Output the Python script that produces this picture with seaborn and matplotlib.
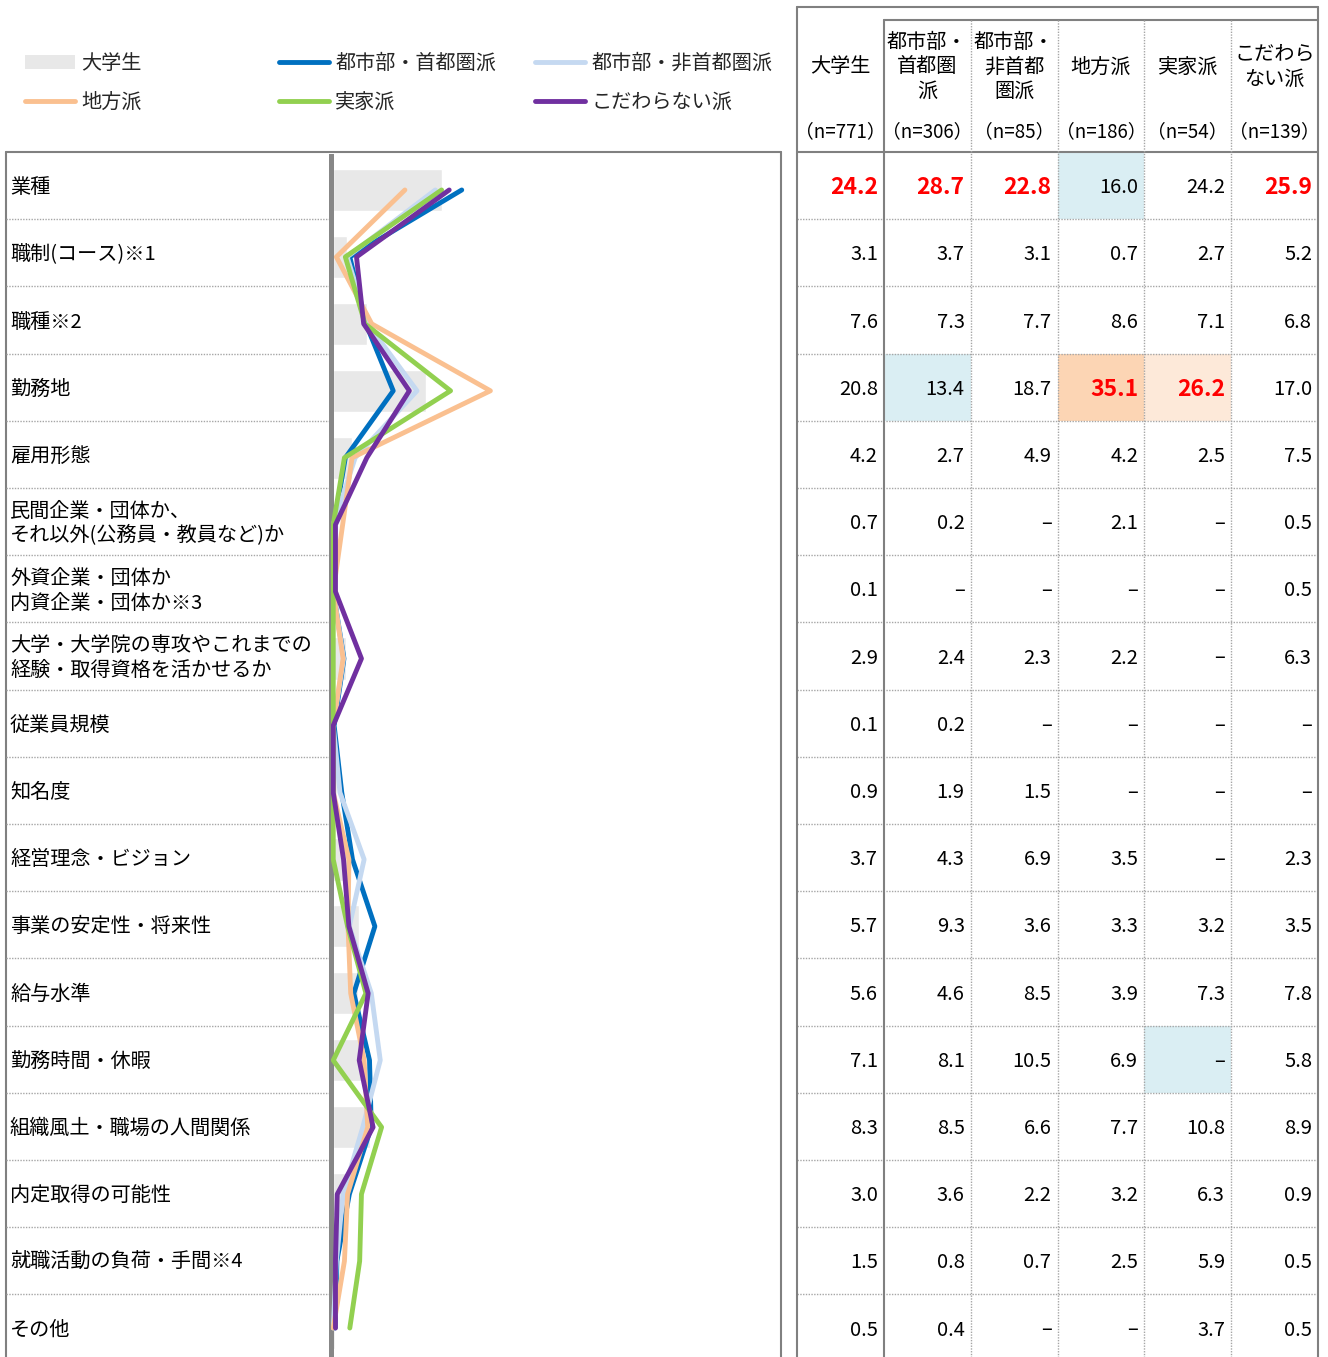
import matplotlib
matplotlib.use("Agg")
import matplotlib.pyplot as plt
from matplotlib.patches import Patch, Rectangle
from matplotlib.lines import Line2D
import seaborn as sns
import numpy as np
import pandas as pd

# ---- data -----------------------------------------------------------------
labels = [
    "業種",
    "職制(コース)※1",
    "職種※2",
    "勤務地",
    "雇用形態",
    "民間企業・団体か、\nそれ以外(公務員・教員など)か",
    "外資企業・団体か\n内資企業・団体か※3",
    "大学・大学院の専攻やこれまでの\n経験・取得資格を活かせるか",
    "従業員規模",
    "知名度",
    "経営理念・ビジョン",
    "事業の安定性・将来性",
    "給与水準",
    "勤務時間・休暇",
    "組織風土・職場の人間関係",
    "内定取得の可能性",
    "就職活動の負荷・手間※4",
    "その他",
]

groups = ["大学生", "都市部・首都圏派", "都市部・非首都圏派", "地方派", "実家派", "こだわらない派"]
col_headers = ["大学生", "都市部・\n首都圏\n派", "都市部・\n非首都\n圏派", "地方派", "実家派", "こだわら\nない派"]
col_n = ["（n=771）", "（n=306）", "（n=85）", "（n=186）", "（n=54）", "（n=139）"]

daigakusei = [24.2, 3.1, 7.6, 20.8, 4.2, 0.7, 0.1, 2.9, 0.1, 0.9, 3.7, 5.7, 5.6, 7.1, 8.3, 3.0, 1.5, 0.5]
shutoken = [28.7, 3.7, 7.3, 13.4, 2.7, 0.2, None, 2.4, 0.2, 1.9, 4.3, 9.3, 4.6, 8.1, 8.5, 3.6, 0.8, 0.4]
hishutoken = [22.8, 3.1, 7.7, 18.7, 4.9, None, None, 2.3, None, 1.5, 6.9, 3.6, 8.5, 10.5, 6.6, 2.2, 0.7, None]
chiho = [16.0, 0.7, 8.6, 35.1, 4.2, 2.1, None, 2.2, None, None, 3.5, 3.3, 3.9, 6.9, 7.7, 3.2, 2.5, None]
jikka = [24.2, 2.7, 7.1, 26.2, 2.5, None, None, None, None, None, None, 3.2, 7.3, None, 10.8, 6.3, 5.9, 3.7]
kodawaranai = [25.9, 5.2, 6.8, 17.0, 7.5, 0.5, 0.5, 6.3, None, None, 2.3, 3.5, 7.8, 5.8, 8.9, 0.9, 0.5, 0.5]

table_cols = [daigakusei, shutoken, hishutoken, chiho, jikka, kodawaranai]

# cells shown in bold red, and shaded cells (row, column, colour)
red_cells = [(0, 0), (0, 1), (0, 2), (0, 5), (3, 3), (3, 4)]
shaded_cells = [(0, 3, "#DAEEF3"), (3, 1, "#DAEEF3"), (3, 3, "#FCD5B4"), (3, 4, "#FDE9D9"), (13, 4, "#DAEEF3")]

line_colors = ["#0070C0", "#C5D9F1", "#FAC090", "#92D050", "#7030A0"]
bar_color = "#E8E8E8"

# ---- style ----------------------------------------------------------------
sns.set_theme(style="white")
plt.rcParams["font.family"] = ["Noto Sans CJK JP", "DejaVu Sans"]

W, H = 1328, 1357
fig = plt.figure(figsize=(W / 100, H / 100), dpi=100)
fig.patch.set_facecolor("white")


def fx(x):
    return x / W


def fy(y):
    return 1 - y / H


# full-figure overlay in pixel units for the text table and frames
ov = fig.add_axes([0, 0, 1, 1])
ov.set_xlim(0, W)
ov.set_ylim(H, 0)
ov.axis("off")

n_rows = len(labels)
row_top = 152.0
row_h = 67.2
grid_c = "#808080"
dot_c = "#A6A6A6"
text_dy = 2.0

# ---- chart ----------------------------------------------------------------
ch_top, ch_bot = 156.5, 1361.5
ch_left, ch_right = 331, 781
ax = fig.add_axes([fx(ch_left), fy(ch_bot), (ch_right - ch_left) / W, (ch_bot - ch_top) / H])
ax.set_facecolor("none")

df = pd.DataFrame({"label": labels, "value": daigakusei})
sns.barplot(data=df, x="value", y="label", orient="h", color=bar_color,
            width=0.63, saturation=1, ax=ax, zorder=1)

series = [shutoken, hishutoken, chiho, jikka, kodawaranai]
for vals, col in zip(series, line_colors):
    v = [0.0 if x is None else x for x in vals]
    sns.lineplot(x=v, y=np.arange(n_rows), orient="y", sort=False, estimator=None,
                 color=col, linewidth=3.5, ax=ax, zorder=3)

ax.set_xlim(-0.5, 100)
ax.set_ylim(n_rows - 0.5, -0.5)
ax.set_xlabel("")
ax.set_ylabel("")
ax.tick_params(left=False, bottom=False, labelleft=False, labelbottom=False)
for s in ["top", "right", "bottom"]:
    ax.spines[s].set_visible(False)
ax.spines["left"].set_color("#878787")
ax.spines["left"].set_linewidth(3.6)

# ---- left label column and frame -----------------------------------------
ov.plot([6, 781], [row_top, row_top], color=grid_c, lw=1.5)
ov.plot([6, 6], [row_top, H], color=grid_c, lw=1.5)
ov.plot([781, 781], [row_top, H], color=grid_c, lw=1.5)
for i in range(n_rows):
    cy = row_top + row_h * (i + 0.5) + text_dy
    ov.text(10, cy, labels[i], ha="left", va="center", fontsize=14.5,
            linespacing=1.25, color="black")
    if i > 0:
        yb = row_top + row_h * i
        ov.plot([6, 329], [yb, yb], color=dot_c, lw=1.0, ls=(0, (1, 1)))

# ---- table ----------------------------------------------------------------
tx = [797 + (1318 - 797) / 6 * k for k in range(7)]

for r, c, colr in shaded_cells:
    ov.add_patch(Rectangle((tx[c], row_top + row_h * r), tx[c + 1] - tx[c], row_h,
                           facecolor=colr, edgecolor="none", zorder=0))

for i in range(1, n_rows):
    yb = row_top + row_h * i
    ov.plot([797, 1318], [yb, yb], color=dot_c, lw=1.0, ls=(0, (1, 1)))

ov.plot([797, 1318], [7, 7], color=grid_c, lw=1.5)
ov.plot([884, 1318], [20, 20], color=grid_c, lw=1.5)
ov.plot([797, 1318], [row_top, row_top], color=grid_c, lw=1.5)
ov.plot([797, 797], [7, H], color=grid_c, lw=1.5)
ov.plot([1318, 1318], [7, H], color=grid_c, lw=1.5)
ov.plot([tx[1], tx[1]], [20, H], color=grid_c, lw=1.5)
for k in range(2, 6):
    ov.plot([tx[k], tx[k]], [20, H], color=dot_c, lw=1.0, ls=(0, (1, 1)))

for c in range(6):
    cx = (tx[c] + tx[c + 1]) / 2
    ov.text(cx, 65 + text_dy, col_headers[c], ha="center", va="center", fontsize=14.5,
            linespacing=1.22, color="black")
    ov.text(cx, 130 + text_dy, col_n[c], ha="center", va="center", fontsize=13.5, color="black")
    for r in range(n_rows):
        v = table_cols[c][r]
        s = "–" if v is None else f"{v:.1f}"
        red = (r, c) in red_cells
        ov.text(tx[c + 1] - 6, row_top + row_h * (r + 0.5) + text_dy, s, ha="right", va="center",
                fontsize=16.5 if red else 14.5, color="#FF0000" if red else "black",
                fontweight="bold" if red else "normal")

# ---- legend ---------------------------------------------------------------
h_bar = Patch(facecolor=bar_color, edgecolor="none", label=groups[0])
h_lines = [Line2D([], [], color=c, lw=3.5, label=g) for c, g in zip(line_colors, groups[1:])]
legend_cols = [(25, [h_bar, h_lines[2]]), (279, [h_lines[0], h_lines[3]]), (535, [h_lines[1], h_lines[4]])]
for x0, hs in legend_cols:
    fig.legend(handles=hs, loc="upper left", bbox_to_anchor=(fx(x0), fy(53)),
               frameon=False, fontsize=14.5, handlelength=2.5, handletextpad=0.3,
               labelspacing=0.9, borderpad=0, borderaxespad=0)

fig.savefig("out.png", dpi=100, facecolor="white")
